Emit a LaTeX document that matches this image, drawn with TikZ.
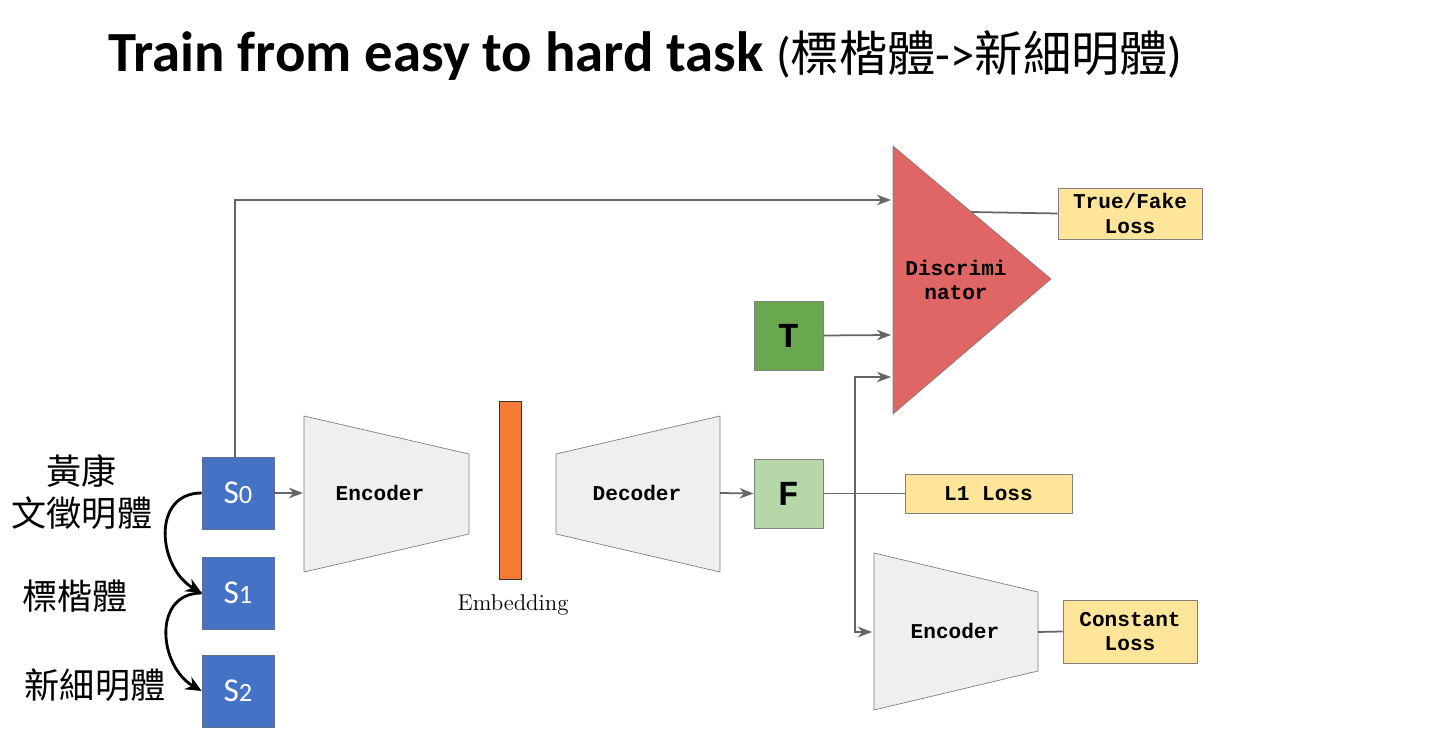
\documentclass[tikz,border=0pt]{standalone}
\usepackage{fontspec}
\setsansfont{Carlito}
\setmonofont{Liberation Mono}
\newfontfamily\cjkfont{Noto Sans CJK TC}
\usepackage{tikz}
\usetikzlibrary{positioning,calc,arrows.meta}
\definecolor{srcblue}{HTML}{4472C4}
\definecolor{srcline}{HTML}{5F6F8C}
\definecolor{boxline}{HTML}{808080}
\definecolor{linegray}{HTML}{666666}
\definecolor{netgray}{HTML}{EFEFEF}
\definecolor{embedorange}{HTML}{F37B36}
\definecolor{truegreen}{HTML}{6AA84F}
\definecolor{fakegreen}{HTML}{B6D7A8}
\definecolor{disred}{HTML}{E06666}
\definecolor{lossyellow}{HTML}{FFE599}
\newcommand{\subidx}[1]{{\fontsize{15}{15}\selectfont #1}}

\begin{document}
\begin{tikzpicture}[
                x=0.02cm, y=-0.02cm,
                every node/.style={inner sep=0pt},
                src/.style={rectangle, draw=srcline, fill=srcblue, minimum size=1.44cm, text=white, font=\sffamily\fontsize{19}{19}\selectfont},
                img/.style={rectangle, draw=boxline, minimum size=1.38cm, font=\ttfamily\bfseries\fontsize{20}{20}\selectfont},
                loss/.style={rectangle, draw=boxline, fill=lossyellow, align=center, font=\ttfamily\bfseries\fontsize{12}{14}\selectfont},
                net/.style={draw=boxline, fill=netgray},
                lbl/.style={font=\ttfamily\bfseries\fontsize{12}{14}\selectfont, align=center},
                cjk/.style={font=\cjkfont\fontsize{20}{24}\selectfont, align=center},
                arrow/.style={draw=linegray, line width=1pt, -{Stealth[length=8pt,width=6pt,inset=2.5pt]}},
                link/.style={draw=linegray, line width=1pt},
                hop/.style={draw=black, line width=1.6pt, -{Stealth[length=9pt,width=8pt]}}
            ]
            \useasboundingbox (0,0) rectangle (1438,746);

            % Title
            \node [anchor=base west, font=\sffamily\bfseries\fontsize{32.3}{33}\selectfont] (title) at (108,72)
                {Train from easy to hard task {\mdseries\fontsize{27.5}{27}\selectfont ({\cjkfont 標楷體}->{\cjkfont 新細明體})}};

            % Nodes
            \node [src] (s0) at (238,493) {S\subidx{0}};
            \node [src] (s1) at (238,593) {S\subidx{1}};
            \node [src] (s2) at (238,691) {S\subidx{2}};
            \node [cjk] (lab0) at (82,492) {黃康\\文徵明體};
            \node [cjk] (lab1) at (75,596) {標楷體};
            \node [cjk] (lab2) at (95,685) {新細明體};

            \draw [net] (304,416) -- (469,454) -- (469,534) -- (304,572) -- cycle;
            \node [lbl] (enc) at (380,493) {Encoder};
            \coordinate (encin) at (303,493);

            \node [draw=black!80, fill=embedorange, minimum width=0.44cm, minimum height=3.56cm] (emb) at (510,490) {};
            \node [font=\fontsize{13}{14}\selectfont] (emblabel) at (513,605) {Embedding};

            \draw [net] (556,454) -- (720,416) -- (720,572) -- (556,534) -- cycle;
            \node [lbl] (dec) at (637,493) {Decoder};
            \coordinate (decout) at (720,493);

            \node [img, fill=fakegreen] (fake) at (788.5,493.5) {F};
            \node [img, fill=truegreen] (target) at (788.5,335.5) {T};

            \draw [draw=boxline, fill=disred] (893,146) -- (1051,279) -- (893,414) -- cycle;
            \node [lbl] (dis) at (956,280) {Discrimi\\nator};
            \coordinate (disin1) at (891,200);
            \coordinate (disin2) at (891,335);
            \coordinate (disin3) at (891,377);
            \coordinate (disout) at (971,212);

            \draw [net] (874,553) -- (1038,592) -- (1038,671) -- (874,710) -- cycle;
            \node [lbl] (enc2) at (955,631) {Encoder};
            \coordinate (enc2in) at (872,632);
            \coordinate (enc2out) at (1038,632);

            \node [loss, minimum width=2.88cm, minimum height=1.02cm] (tfloss) at (1130,213.5) {True/Fake\\Loss};
            \node [loss, minimum width=3.34cm, minimum height=0.78cm] (l1loss) at (988.5,493.5) {L1 Loss};
            \node [loss, minimum width=2.68cm, minimum height=1.26cm] (constloss) at (1130,631.5) {Constant\\Loss};
            \coordinate (split) at (855,493);

            % Arrows
            \draw [hop] (s0.west) to[out=180, in=150, looseness=1.3] (s1.west);
            \draw [hop] (s1.west) to[out=180, in=150, looseness=1.3] (s2.west);
            \draw [arrow] ($(s0.north)+(-3,0)$) |- (disin1);
            \draw [arrow] (s0.east) -- (encin);
            \draw [arrow] (decout) -- (fake.west);
            \draw [arrow] (target.east) -- (disin2);
            \draw [link] (fake.east) -- (l1loss.west);
            \draw [arrow] (split) |- (disin3);
            \draw [arrow] (split) |- (enc2in);
            \draw [link] (disout) -- (tfloss.west);
            \draw [link] (enc2out) -- (constloss.west);

\end{tikzpicture}
\end{document}
